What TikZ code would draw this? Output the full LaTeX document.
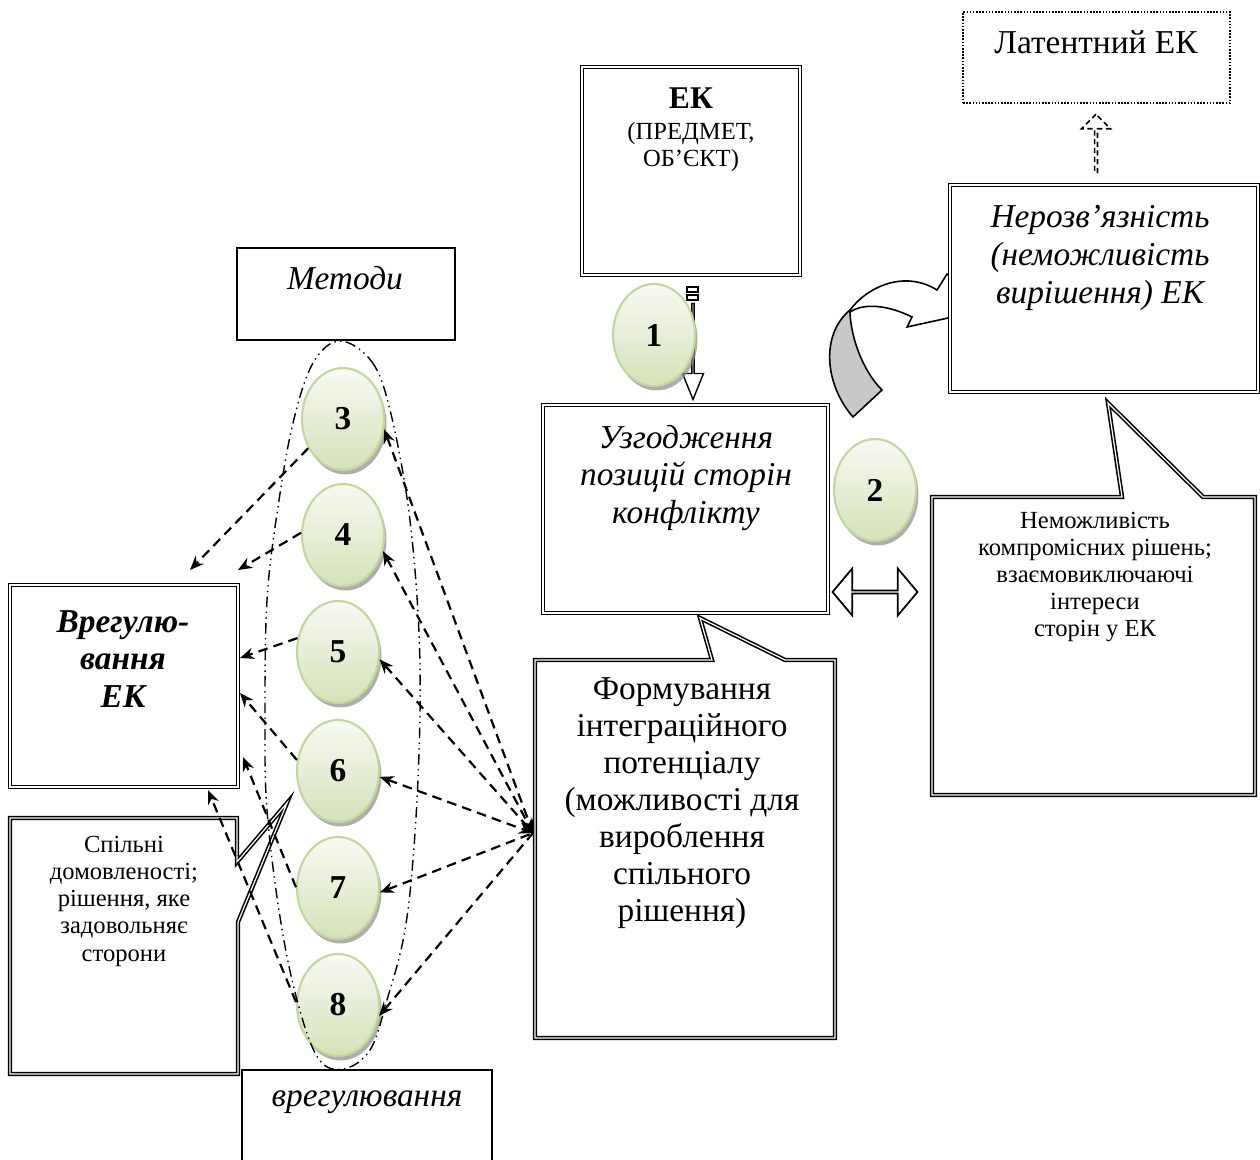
\documentclass[tikz,border=0pt]{standalone}
\usepackage{fontspec}
\setmainfont{Liberation Serif}
\usetikzlibrary{positioning,fit,arrows.meta,shapes.geometric,shapes.arrows,shadows}

\definecolor{circtop}{HTML}{F8FAF3}
\definecolor{circbot}{HTML}{D4E2B8}
\definecolor{circline}{HTML}{C3D69B}
\definecolor{ribbon}{HTML}{C8C8C8}

\begin{document}
\begin{tikzpicture}[
    x=0.02cm, y=-0.02cm,
    >={Stealth[length=8pt,width=6.5pt]},
    box/.style={draw, fill=white, inner sep=0pt, line width=0.6pt},
    dblbox/.style={draw, fill=white, inner sep=0pt, double, double distance=0.8pt, line width=0.6pt},
    calloutline/.style={draw, fill=white, double, double distance=0.7pt, line width=0.9pt},
    bigtxt/.style={font=\fontsize{19}{21.5}\selectfont, align=center},
    smalltxt/.style={font=\fontsize{14}{15.5}\selectfont, align=center},
    circ/.style={ellipse, draw=circline, line width=1.2pt, top color=circtop, bottom color=circbot,
        minimum width=1.64cm, minimum height=2.04cm, inner sep=0pt,
        font=\fontsize{19}{21}\selectfont\bfseries,
        drop shadow={shadow xshift=0.5mm, shadow yshift=-0.9mm, fill=black!45, opacity=0.7}},
    dashlink/.style={dash pattern=on 5.5pt off 3.5pt, line width=1.25pt},
    lens/.style={line width=0.8pt, dash pattern=on 6pt off 2.5pt on 0.8pt off 2.5pt on 0.8pt off 2.5pt},
]
\useasboundingbox (0,0) rectangle (1260,1159);

% Top right: latent conflict
\node[box, line width=0.9pt, dash pattern=on 0.9pt off 0.9pt, fit={(963,12) (1230,103)}] (latent) {};
\node[bigtxt] (latenttxt) at (1096,42) {Латентний ЕК};
\node[single arrow, draw, line width=0.9pt, dash pattern=on 3pt off 2pt, rotate=90,
      minimum height=1.16cm, minimum width=0.58cm, single arrow head extend=0.14cm,
      single arrow tip angle=90, inner sep=0pt] (uparr) at (1096,144) {};

% Curved ribbon arrow (drawn before the box, its tip goes under it)
\draw[fill=ribbon, line width=0.9pt] (853,417) .. controls (825,385) and (820,335) .. (850,310)
    .. controls (850,335) and (862,370) .. (882,390) -- cycle;
\draw[fill=white, line width=0.9pt] (850,310) .. controls (868,286) and (905,270) .. (937,290)
    -- (947,274) -- (975,298) -- (948,318) -- (907,327) -- (912,317)
    .. controls (890,306) and (865,302) .. (850,312) -- cycle;

% Unresolvable conflict
\node[dblbox, fit={(950,185) (1258,392)}] (nerozv) {};
\node[bigtxt, font=\fontsize{19}{21.5}\selectfont\itshape] (nerozvtxt) at (1100,258)
    {Нерозв’язність\\ (неможливість\\ вирішення) ЕК};

% EK (subject, object)
\node[dblbox, fit={(582,67) (800,275)}] (ek) {};
\node[align=center, font=\fontsize{14}{15.5}\selectfont] (ektxt) at (691,130)
    {\textbf{\fontsize{18}{20}\selectfont ЕК}\\[2pt] (ПРЕДМЕТ,\\ ОБ’ЄКТ)};

% striped arrow EK -> agreement
\draw[line width=0.8pt, fill=white] (687,287) rectangle (698,292);
\draw[line width=0.8pt, fill=white] (687,295) rectangle (698,300);
\node[single arrow, draw, fill=white, line width=0.8pt, rotate=-90,
      minimum height=1.92cm, minimum width=0.42cm, single arrow head extend=0.11cm,
      single arrow tip angle=44, inner sep=0pt] (downarr) at (693,350) {};
\node[circ] (c1) at (654,335) {1};

% Agreement of positions
\node[dblbox, fit={(543,405) (828,613)}] (uzgod) {};
\node[bigtxt, font=\fontsize{19}{21.5}\selectfont\itshape] (uzgodtxt) at (686,478)
    {Узгодження\\ позицій сторін\\ конфлікту};

\node[circ] (c2) at (875,490) {2};
\node[double arrow, draw, fill=white, line width=1pt, minimum height=1.7cm, minimum width=0.94cm,
      double arrow head extend=0.27cm, double arrow tip angle=100, inner sep=0pt] (dblarr) at (875,592) {};

% Callout: impossibility of compromise
\draw[calloutline] (932,497) -- (1122,497) -- (1108,403) -- (1203,497) -- (1255,497)
    -- (1255,795) -- (932,795) -- cycle;
\node[smalltxt] (nemozhtxt) at (1095,577)
    {Неможливість\\ компромісних рішень;\\ взаємовиключаючі\\ інтереси\\ сторін у ЕК};

% Callout: integration potential
\draw[calloutline] (535,660) -- (712,660) -- (700,618) -- (785,660) -- (835,660)
    -- (835,1038) -- (535,1038) -- cycle;
\node[bigtxt, font=\fontsize{19}{21}\selectfont] (formtxt) at (682,803)
    {Формування\\ інтеграційного\\ потенціалу\\ (можливості для\\ вироблення\\ спільного\\ рішення)};
\coordinate (hub) at (533,833);

% Left column: settlement and common agreements
\node[dblbox, fit={(10,585) (238,787)}] (vreg) {};
\node[bigtxt, font=\fontsize{19}{21.5}\selectfont\bfseries\itshape] (vregtxt) at (123,659)
    {Врегулю-\\ вання\\ ЕК};
\draw[calloutline] (10,818) -- (237,818) -- (237,862) -- (287,803) -- (238,922)
    -- (238,1074) -- (10,1074) -- cycle;
\node[smalltxt] (spilntxt) at (124,901)
    {Спільні\\ домовленості;\\ рішення, яке\\ задовольняє\\ сторони};

% Methods of settlement
\node[box, fit={(237,248) (455,340)}] (metody) {};
\node[bigtxt, font=\fontsize{19}{21.5}\selectfont\itshape] (metodytxt) at (345,278) {Методи};
\node[box, fit={(242,1070) (492,1180)}] (vregul) {};
\node[bigtxt, font=\fontsize{19}{21.5}\selectfont\itshape] (vregultxt) at (367,1102) {врегулювання};

% Circles 3..8
\node[circ] (c3) at (343,419) {3};
\node[circ] (c4) at (343,535) {4};
\node[circ] (c5) at (338,652) {5};
\node[circ] (c6) at (338,771) {6};
\node[circ] (c7) at (338,888) {7};
\node[circ] (c8) at (338,1005) {8};

% Dash-dot lens round the circles
\draw[lens] plot[smooth cycle, tension=0.6] coordinates {(340,341) (372,362) (390,410) (408,505)
    (418,613) (420,713) (415,833) (405,930) (387,1000) (370,1050) (343,1069) (318,1058)
    (297,1000) (280,917) (267,810) (265,720) (267,600) (278,507) (293,423) (313,363)};

% Arrow ends at the settlement box
\coordinate (t3) at (190,570);
\coordinate (t4) at (238,570);
\coordinate (t5) at (240,658);
\coordinate (t6) at (240,693);
\coordinate (t7) at (243,757);
\coordinate (t8) at (208,790);

\draw[dashlink,->] (c3.220) -- (t3);
\draw[dashlink,->] (c4.177) -- (t4);
\draw[dashlink,->] (c5.161) -- (t5);
\draw[dashlink,->] (c6.165) -- (t6);
\draw[dashlink,->] (c7.179) -- (t7);
\draw[dashlink,->] (c8.176) -- (t8);

% Arrows from the integration potential
\draw[dashlink,<->] (c3.346) -- (hub);
\draw[dashlink,<->] (c4.338) -- (hub);
\draw[dashlink,<-] (c5.350) -- (hub);
\draw[dashlink,<->] (c6.352) -- (hub);
\draw[dashlink,<-] (c7.354) -- (hub);
\draw[dashlink,<-] (c8.345) -- (hub);

\end{tikzpicture}
\end{document}
